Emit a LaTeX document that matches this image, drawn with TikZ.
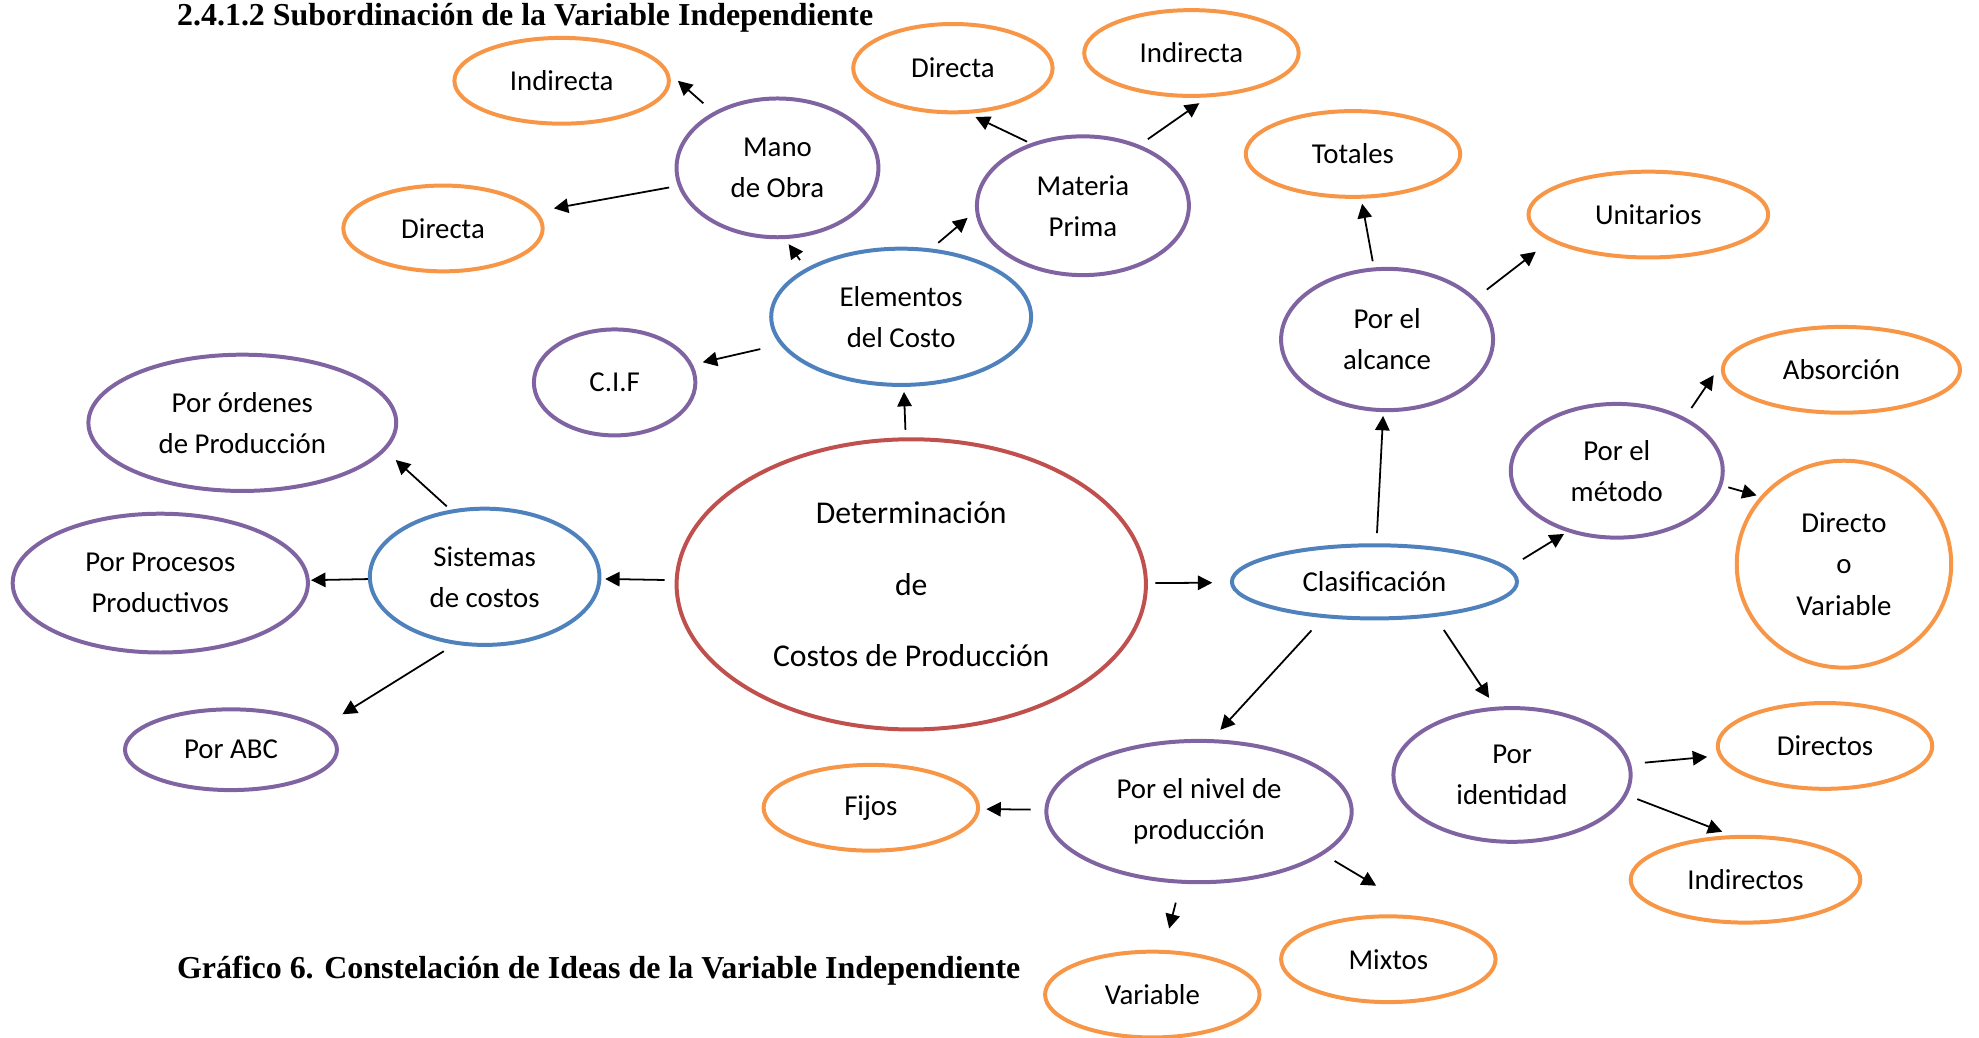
\documentclass[tikz,border=0pt]{standalone}
\usepackage{fontspec}
\setmainfont{Carlito}
\newfontfamily\titlefont{Liberation Serif}
\usepackage{tikz}
\usetikzlibrary{positioning, arrows.meta, shapes.geometric}
\definecolor{rojo}{HTML}{C0504D}
\definecolor{azul}{HTML}{4F81BD}
\definecolor{morado}{HTML}{8064A2}
\definecolor{naranja}{HTML}{F79646}

\begin{document}
\begin{tikzpicture}[x=0.02cm, y=-0.02cm,
        ell/.style 2 args={ellipse, minimum width=#1*0.04cm, minimum height=#2*0.04cm, inner sep=0pt,
            line width=1.8pt, align=center, font=\fontsize{13}{18.5}\selectfont},
        blu/.style={draw=azul}, prp/.style={draw=morado}, org/.style={draw=naranja},
        arr/.style={-{Triangle[length=6.5pt, width=6.5pt]}, line width=0.8pt},
        titulo/.style={anchor=base west, inner sep=0pt, font=\titlefont\bfseries\fontsize{14.4}{17}\selectfont}]
    \useasboundingbox (0,0) rectangle (1568,822);
        \node (sub) [titulo] at (140,20) {2.4.1.2 Subordinación de la Variable Independiente};
        \node (graf) [titulo] at (140,775) {Gráfico 6. Constelación de Ideas de la Variable Independiente};

        \node (main) [ell={186}{115}, draw=rojo, font=\fontsize{14.3}{32.3}\selectfont] at (722,463) {Determinación\\de\\Costos de Producción};
        \node (clas) [ell={113}{29}, blu] at (1089,461) {Clasificación};
        \node (elem) [ell={103}{54}, blu] at (714,251) {Elementos\\del Costo};
        \node (sist) [ell={91}{54}, blu] at (384,457) {Sistemas\\de costos};

        \node (mano) [ell={80}{55}, prp] at (616,133) {Mano\\de Obra};
        \node (mat) [ell={84}{55}, prp] at (858,163) {Materia\\Prima};
        \node (cif) [ell={64}{42}, prp] at (487,303) {C.I.F};
        \node (ord) [ell={122}{54}, prp] at (192,335) {Por órdenes\\de Producción};
        \node (proc) [ell={117}{55}, prp] at (127,462) {Por Procesos\\Productivos};
        \node (abc) [ell={84}{32}, prp] at (183,594) {Por ABC};
        \node (alc) [ell={84}{56}, prp] at (1099,269) {Por el\\alcance};
        \node (met) [ell={84}{53}, prp] at (1281,373) {Por el\\método};
        \node (ident) [ell={94}{53}, prp] at (1198,614) {Por\\identidad};
        \node (niv) [ell={121}{56}, prp] at (950,643) {Por el nivel de\\producción};

        \node (moind) [ell={85}{34}, org] at (445,64) {Indirecta};
        \node (modir) [ell={79}{34}, org] at (351,181) {Directa};
        \node (mpdir) [ell={79}{35}, org] at (755,54) {Directa};
        \node (mpind) [ell={85}{34}, org] at (944,42) {Indirecta};
        \node (tot) [ell={85}{34}, org] at (1072,122) {Totales};
        \node (unit) [ell={95}{34}, org] at (1306,170) {Unitarios};
        \node (absor) [ell={94}{34}, org] at (1459,293) {Absorción};
        \node (dov) [ell={85}{82}, org] at (1461,447) {Directo\\o\\Variable};
        \node (dirs) [ell={85}{34}, org] at (1446,591) {Directos};
        \node (indirs) [ell={91}{34}, org] at (1383,697) {Indirectos};
        \node (fijos) [ell={85}{34}, org] at (690,640) {Fijos};
        \node (var) [ell={85}{34}, org] at (913,788) {Variable};
        \node (mix) [ell={85}{34}, org] at (1100,760) {Mixtos};

        \draw [arr, shorten <=0.12cm, shorten >=0.08cm] (main) -- (elem);
        \draw [arr, shorten <=0.16cm, shorten >=0.06cm] (main) -- (sist);
        \draw [arr, shorten <=0.12cm, shorten >=0.28cm] (main) -- (clas);

        \draw [arr, shorten <=0.16cm, shorten >=0.1cm] (elem.153) -- (mano.-84);
        \draw [arr, shorten <=0.14cm, shorten >=0.16cm] (elem.66) -- (mat.183);
        \draw [arr, shorten <=0.32cm, shorten >=0.16cm] (elem) -- (cif);
        \draw [arr, shorten <=0.21cm, shorten >=0.18cm] (mano.139) -- (moind.4);
        \draw [arr, shorten <=0.14cm, shorten >=0.27cm] (mano) -- (modir);
        \draw [arr, shorten <=0.06cm, shorten >=0.12cm] (mat.130) -- (mpdir.-71);
        \draw [arr, shorten <=0.16cm, shorten >=0.16cm] (mat.47) -- (mpind.-70);

        \draw [arr, shorten <=0.08cm, shorten >=0.22cm] (sist.117) -- (ord.-11);
        \draw [arr, shorten >=0.02cm] (sist) -- (proc);
        \draw [arr, shorten <=0.2cm, shorten >=0.38cm] (sist.-114) -- (abc.14);

        \draw [arr, shorten <=0.16cm, shorten >=0.06cm] (clas) -- (alc);
        \draw [arr, shorten <=0.26cm, shorten >=0.06cm] (clas.6) -- (met.-129);
        \draw [arr, shorten <=0.27cm, shorten >=0.2cm] (clas.-145) -- (niv.80);
        \draw [arr, shorten <=0.25cm, shorten >=0.17cm] (clas.-30) -- (ident.104);

        \draw [arr, shorten <=0.1cm, shorten >=0.08cm] (alc) -- (tot);
        \draw [arr, shorten <=0.22cm, shorten >=0.28cm] (alc.25) -- (unit.-165);
        \draw [arr, shorten <=0.18cm, shorten >=0.26cm] (met.38) -- (absor.176);
        \draw [arr, shorten <=0.1cm, shorten >=0.06cm] (met.-8) -- (dov.141);
        \draw [arr, shorten <=0.22cm, shorten >=0.18cm] (ident) -- (dirs);
        \draw [arr, shorten <=0.17cm, shorten >=0.15cm] (ident.-10) -- (indirs.108);
        \draw [arr, shorten <=0.22cm, shorten >=0.1cm] (niv) -- (fijos);
        \draw [arr, shorten <=0.2cm, shorten >=0.99cm] (niv.-19) -- (mix.45);
        \draw [arr, shorten <=0.31cm, shorten >=0.35cm] (niv) -- (var);
    \end{tikzpicture}
\end{document}
